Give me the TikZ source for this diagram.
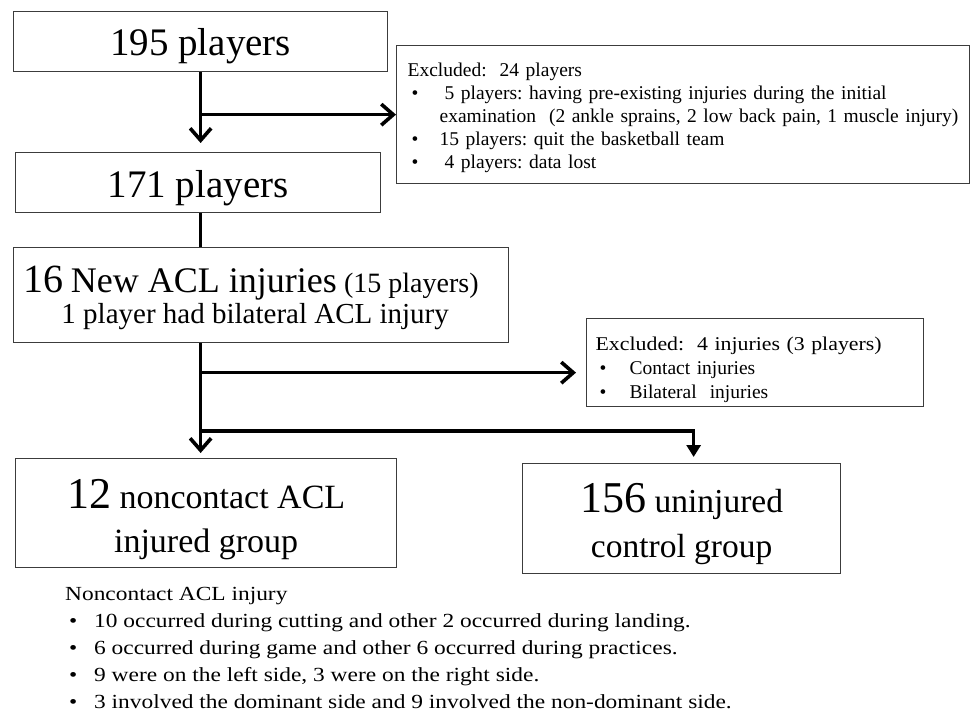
\documentclass[tikz,border=0pt]{standalone}
\usepackage{fontspec}
\setmainfont{Liberation Serif}
\newfontfamily\widefont[FakeStretch=1.17]{Liberation Serif}
\newfontfamily\exfont[FakeStretch=1.12]{Liberation Serif}
\usetikzlibrary{arrows.meta, positioning, calc}
\definecolor{boxgray}{RGB}{60,60,60}
\newcommand{\xbul}[1][28pt]{\hspace*{4pt}\makebox[#1][l]{\textbullet}}
\frenchspacing

\tikzset{
  flowbox/.style={draw=boxgray, line width=1.3pt, inner sep=0pt, anchor=north west, align=center, text depth=0pt},
  notebox/.style={draw=boxgray, line width=1.3pt, inner ysep=0pt, anchor=north west, align=left, text height=14pt, font=\fontsize{19.5}{23}\selectfont},
  flowline/.style={line width=3.6pt},
  barbtip/.style={-{Straight Barb[length=12pt,width=21pt]}},
  tritip/.style={-{Triangle[length=12pt,width=14pt]}}
}

\begin{document}
\begin{tikzpicture}[x=1pt, y=-1pt]
  \useasboundingbox (0,0) rectangle (970,714);

  \node[flowbox, minimum width=374pt, minimum height=60pt, text height=28pt, font=\fontsize{39}{45}\selectfont] (b195) at (13,11) {195 players};
  \node[flowbox, minimum width=365pt, minimum height=60pt, text height=30pt, font=\fontsize{39}{45}\selectfont] (b171) at (15,152) {171 players};
  \node[flowbox, minimum width=495pt, minimum height=95pt, text height=57pt, font=\fontsize{29}{31}\selectfont] (b16) at (13,247)
    {\hspace*{-20pt}{\fontsize{40}{31}\selectfont 16} {\fontsize{36}{31}\selectfont New ACL injuries} {\fontsize{28}{31}\selectfont (15 players)}\\
     \hspace*{-12pt}1 player had bilateral ACL injury};
  \node[flowbox, minimum width=381pt, minimum height=109pt, text height=79pt, font=\fontsize{34}{44}\selectfont] (b12) at (15,458)
    {{\fontsize{44}{44}\selectfont 12} noncontact ACL\\injured group};
  \node[flowbox, minimum width=318pt, minimum height=110pt, text height=78pt, font=\fontsize{33.5}{45}\selectfont] (b156) at (522,463)
    {{\fontsize{44}{45}\selectfont 156} uninjured\\control group};

  \node[notebox, minimum width=573pt, minimum height=138pt, text width=551pt, inner xsep=11pt, text depth=90pt] (ex1) at (396,45)
    {Excluded:~ 24 players\\
     \xbul\hspace*{5pt}5 players: having pre-existing injuries during the initial\\
     \hspace*{32pt}\mbox{examination~ (2 ankle sprains, 2 low back pain, 1 muscle injury)}\\
     \xbul 15 players: quit the basketball team\\
     \xbul\hspace*{5pt}4 players: data lost};
  \node[notebox, minimum width=337pt, minimum height=88pt, text width=319pt, inner xsep=9pt, text depth=38pt, font=\fontsize{19.5}{24}\selectfont] (ex2) at (586,318)
    {{\exfont Excluded:~ 4 injuries (3 players)}\\
     \xbul[30pt]Contact injuries\\
     \xbul[30pt]Bilateral~ injuries};

  \node[anchor=north west, inner sep=0pt, align=left, font=\widefont\fontsize{20}{27}\selectfont] (notes) at (65,587.5)
    {Noncontact ACL injury\\
     \xbul[25pt]10 occurred during cutting and other 2 occurred during landing.\\
     \xbul[25pt]6 occurred during game and other 6 occurred during practices.\\
     \xbul[25pt]9 were on the left side, 3 were on the right side.\\
     \xbul[25pt]3 involved the dominant side and 9 involved the non-dominant side.};

  \coordinate (ex2tip) at ([yshift=-10pt]ex2.west);
  \coordinate (split) at (200,431);

  \draw[flowline, barbtip, shorten >=9pt] (b195.south) -- (b195.south |- b171.north);
  \draw[flowline, barbtip] (b195.south |- ex1.west) -- (ex1.west);
  \draw[flowline] (b195.south |- b171.south) -- (b195.south |- b16.north);
  \draw[flowline, barbtip, shorten >=5pt] (b195.south |- b16.south) -- (b195.south |- b12.north);
  \draw[flowline, barbtip, shorten >=10pt] (b195.south |- ex2tip) -- (ex2tip);
  \draw[flowline, tritip, shorten >=6pt] (split) -| ([xshift=12pt]b156.north);
\end{tikzpicture}
\end{document}
